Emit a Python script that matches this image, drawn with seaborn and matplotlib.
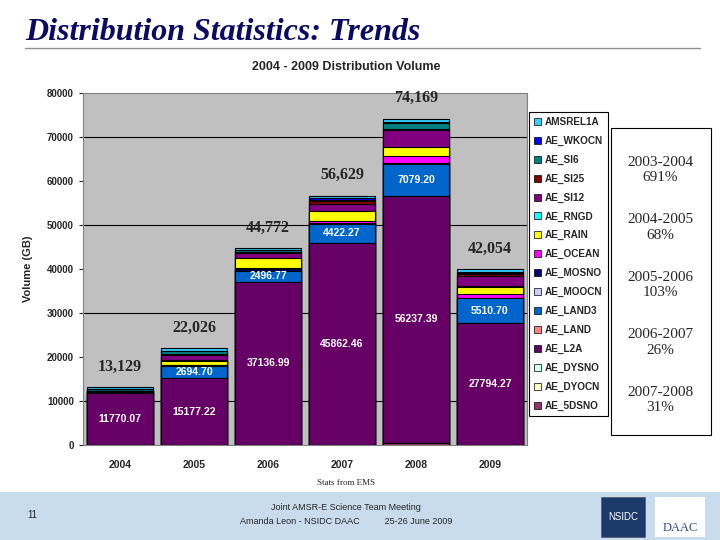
import numpy as np
import pandas as pd
import matplotlib.pyplot as plt
import seaborn as sns
from matplotlib.patches import Patch, Rectangle

years = ['2004', '2005', '2006', '2007', '2008', '2009']
totals = [13129, 22026, 44772, 56629, 74169, 42054]

# products, bottom of the stack first
products = ['AE_5DSNO', 'AE_DYOCN', 'AE_DYSNO', 'AE_L2A', 'AE_LAND', 'AE_LAND3',
            'AE_MOOCN', 'AE_MOSNO', 'AE_OCEAN', 'AE_RAIN', 'AE_RNGD', 'AE_SI12',
            'AE_SI25', 'AE_SI6', 'AE_WKOCN', 'AMSREL1A']
colors = ['#993366', '#FFFFCC', '#CCFFFF', '#660066', '#FF8080', '#0066CC',
          '#CCCCFF', '#000080', '#FF00FF', '#FFFF00', '#00FFFF', '#800080',
          '#800000', '#008080', '#0000FF', '#33CCFF']

ae_5dsno = [0, 0, 0, 0, 450.41, 0]
ae_dyocn = [0, 0, 0, 0, 0, 0]
ae_dysno = [0, 0, 0, 0, 0, 0]
ae_l2a = [11770.07, 15177.22, 37136.99, 45862.46, 56237.39, 27794.27]
ae_land = [0, 0, 0, 0, 0, 0]
ae_land3 = [300, 2694.70, 2496.77, 4422.27, 7079.20, 5510.70]
ae_moocn = [0, 0, 0, 0, 0, 0]
ae_mosno = [250, 250, 300, 200, 300, 200]
ae_ocean = [0, 100, 200, 500, 1650, 700]
ae_rain = [0, 900, 2300, 2100, 1950, 1650]
ae_rngd = [0, 104.08, 0, 0, 152, 345]
ae_si12 = [0, 1300, 1200, 1700, 3700, 2100]
ae_si25 = [0, 250, 250, 700, 300, 500]
ae_si6 = [300, 500, 400, 300, 1400, 300]
ae_wkocn = [158.93, 200, 88.24, 244.27, 150, 300]
amsrel1a = [350, 550, 400, 600, 800, 600]

growth_periods = ['2003-2004', '2004-2005', '2005-2006', '2006-2007', '2007-2008']
growth_pct = ['691%', '68%', '103%', '26%', '31%']

df = pd.DataFrame([ae_5dsno, ae_dyocn, ae_dysno, ae_l2a, ae_land, ae_land3,
                   ae_moocn, ae_mosno, ae_ocean, ae_rain, ae_rngd, ae_si12,
                   ae_si25, ae_si6, ae_wkocn, amsrel1a],
                  index=products, columns=years)
cum = df.cumsum()

sns.set_style('white')
plt.rcParams['font.family'] = ['Liberation Sans', 'DejaVu Sans']

fig = plt.figure(figsize=(7.2, 5.4), dpi=100)
ax = fig.add_axes([83/720, 1-445/540, (527-83)/720, (445-93)/540])
ax.set_facecolor('#C0C0C0')

for v in [10000, 30000, 50000, 70000]:
    ax.axhline(v, color='black', lw=0.8, zorder=0.5)

# draw cumulative bars from top to bottom so every layer shows
for prod, col in zip(products[::-1], colors[::-1]):
    sns.barplot(x=years, y=list(cum.loc[prod].values), color=col, saturation=1,
                width=0.9, edgecolor='black', linewidth=0.8, ax=ax, zorder=1)

bottoms = cum.shift(1).fillna(0)
for prod in ['AE_L2A', 'AE_LAND3']:
    for i, y in enumerate(years):
        val = df.loc[prod, y]
        if val > 1000:
            ax.text(i, bottoms.loc[prod, y] + val/2, f'{val:.2f}', ha='center', va='center',
                    color='white', fontsize=7.5, fontweight='bold', zorder=3)

for i, y in enumerate(years):
    ax.annotate(f'{totals[i]:,}', (i, cum.loc['AMSREL1A', y]), xytext=(0, 9),
                textcoords='offset points', ha='center', va='bottom',
                fontsize=11.5, fontweight='bold', family='Liberation Serif')

ax.set_xlim(-0.5, 5.5)
ax.set_ylim(0, 80000)
ax.set_yticks(np.arange(0, 80001, 10000))
ax.set_yticklabels([str(v) for v in range(0, 80001, 10000)], fontsize=7, fontweight='bold')
ax.tick_params(axis='x', labelsize=7.5, length=0, pad=11)
for lab in ax.get_xticklabels():
    lab.set_fontweight('bold')
ax.tick_params(axis='y', length=3, direction='out', left=True)
ax.set_xlabel('')
ax.set_ylabel('Volume (GB)', fontsize=8, fontweight='bold', labelpad=10)
for s in ax.spines.values():
    s.set_color('#808080')
    s.set_linewidth(0.8)

handles = [Patch(facecolor=c, edgecolor='black', linewidth=0.5) for c in colors[::-1]]
leg = fig.legend(handles, products[::-1], loc='upper left',
                 bbox_to_anchor=(529/720, 1-112/540),
                 prop={'weight': 'bold', 'size': 7.2}, frameon=True, fancybox=False,
                 edgecolor='black', framealpha=1, handlelength=0.7, handleheight=0.7,
                 handletextpad=0.4, labelspacing=0.88, borderpad=0.5, borderaxespad=0)
leg.get_frame().set_linewidth(0.8)

# growth box on the right
fig.patches.append(Rectangle((611/720, 1-435/540), 100/720, 307/540, transform=fig.transFigure,
                             facecolor='white', edgecolor='black', lw=0.8))
for k, (p, g) in enumerate(zip(growth_periods, growth_pct)):
    yy = 1 - (170 + k*57.5)/540
    fig.text(660/720, yy, f'{p}\n{g}', ha='center', va='center', fontsize=11,
             family='Liberation Serif', linespacing=1.25)

# slide heading
fig.text(25/720, 1-32/540, 'Distribution Statistics: Trends', fontsize=23,
         family='Liberation Serif', fontweight='bold', style='italic', color='#0A0A64',
         va='center')
fig.add_artist(plt.Line2D([25/720, 700/720], [1-48/540, 1-48/540], color='#909090', lw=1))
fig.text(346/720, 1-67/540, '2004 - 2009 Distribution Volume', ha='center', va='center',
         fontsize=9, fontweight='bold')
fig.text(346/720, 1-483/540, 'Stats from EMS', ha='center', va='center', fontsize=6.5,
         family='Liberation Serif')

# footer band
fig.patches.append(Rectangle((0, 0), 1, 48/540, transform=fig.transFigure,
                             facecolor='#C9DCEE', edgecolor='none'))
fig.text(32/720, 1-515/540, '11', ha='center', va='center', fontsize=7)
fig.text(346/720, 1-508/540, 'Joint AMSR-E Science Team Meeting', ha='center', va='center', fontsize=6.5)
fig.text(346/720, 1-522/540, 'Amanda Leon - NSIDC DAAC          25-26 June 2009', ha='center',
         va='center', fontsize=6.5)
fig.patches.append(Rectangle((601/720, 1-537/540), 44/720, 40/540, transform=fig.transFigure,
                             facecolor='#1B3A6B', edgecolor='#555555', lw=0.5))
fig.text(623/720, 1-517/540, 'NSIDC', ha='center', va='center', fontsize=7, color='white')
fig.patches.append(Rectangle((655/720, 1-537/540), 50/720, 40/540, transform=fig.transFigure,
                             facecolor='white', edgecolor='none'))
fig.text(680/720, 1-528/540, 'DAAC', ha='center', va='center', fontsize=9, color='#2B4C8C',
         family='Liberation Serif')

fig.savefig('out.png', dpi=100)
